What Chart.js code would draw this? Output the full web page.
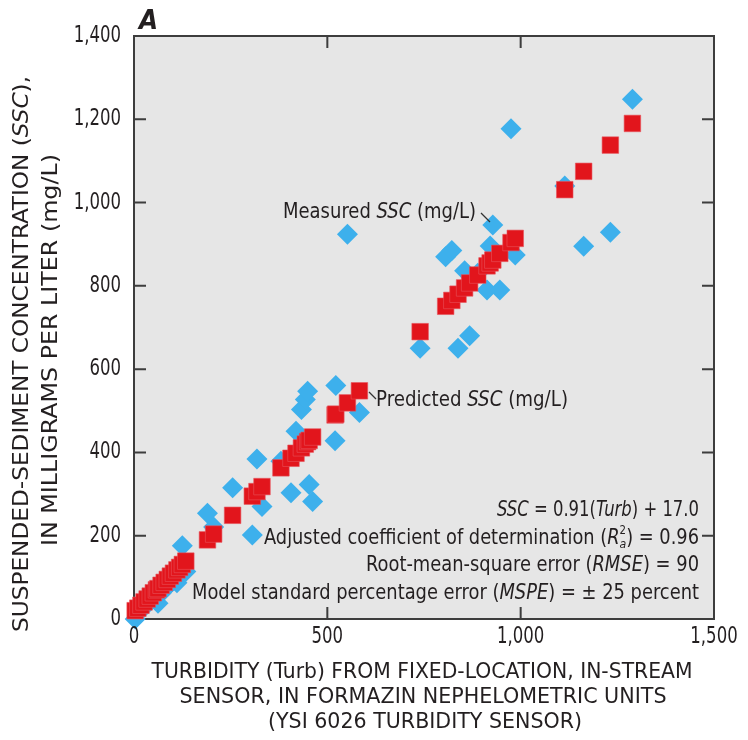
<!DOCTYPE html>
<html><head><meta charset="utf-8">
<script src="https://cdn.jsdelivr.net/npm/chart.js@4/dist/chart.umd.min.js"></script>
<style>html,body{margin:0;padding:0;background:#fff;}#wrap{width:748px;height:740px;}</style>
</head><body><div id="wrap"><canvas id="c" width="748" height="740"></canvas></div>
<script>
// Turbidity (FNU) for each sample
const turbidity = [3, 10, 18, 26, 34, 42, 50, 58, 62, 70, 78, 86, 94, 102, 111, 118, 125, 134,
  190, 206, 255, 306, 318, 331, 380, 406, 419, 433, 443, 449, 453, 462, 520, 522, 552, 583,
  740, 806, 822, 838, 855, 868, 889, 913, 921, 928, 946, 975, 986,
  1114, 1163, 1232, 1289];
// Measured SSC (mg/L)
const measuredSSC = [0, 15, 22, 28, 36, 44, 50, 56, 38, 62, 70, 78, 86, 92, 87, 108, 176, 114,
  254, 221, 315, 202, 384, 270, 379, 303, 451, 503, 527, 547, 323, 282, 428, 561, 924, 496,
  650, 870, 885, 650, 836, 680, 830, 790, 896, 946, 790, 1177, 874,
  1040, 895, 929, 1248];
// Predicted SSC (mg/L)
const predictedSSC = [20, 26, 33, 41, 48, 55, 63, 70, 73, 81, 88, 95, 103, 110, 118, 124, 131, 139,
  190, 204, 249, 295, 306, 318, 363, 386, 398, 411, 420, 426, 429, 437, 490, 492, 519, 548,
  690, 751, 765, 780, 795, 807, 826, 848, 855, 862, 878, 904, 914,
  1031, 1075, 1138, 1190];
const xTickValues = [0, 500, 1000, 1500];
const yTickValues = [0, 200, 400, 600, 800, 1000, 1200, 1400];

const FF = "'Liberation Sans Narrow','DejaVu Sans Condensed','Arial Narrow',sans-serif";
const TXT = '#231f20';
const fmt = v => Number(v).toLocaleString('en-US');

function segFont(s, size){ return (s.bold?'bold ':'') + (s.italic?'italic ':'') + (s.size||size) + 'px ' + FF; }
function drawLine(ctx, segs, x, y, size, targetW, align, fixedScale){
  let nat = 0;
  segs.forEach(s => { ctx.font = segFont(s,size); s.w = ctx.measureText(s.t).width; nat += s.w + (s.gap||0); });
  const sx = fixedScale ? fixedScale : (targetW ? targetW / nat : 1);
  ctx.save();
  const left = align === 'right' ? x - nat*sx : align === 'center' ? x - nat*sx/2 : x;
  ctx.translate(left, y);
  ctx.scale(sx, 1);
  ctx.textBaseline = 'middle'; ctx.textAlign = 'left'; ctx.fillStyle = TXT;
  let cx = 0;
  segs.forEach(s => { ctx.font = segFont(s,size); ctx.fillText(s.t, cx, s.dy||0); cx += s.w + (s.gap||0); });
  ctx.restore();
}

const framePlugin = {
  id: 'frame',
  beforeDraw(chart){
    const {ctx, chartArea:a} = chart;
    ctx.save();
    ctx.fillStyle = '#fff'; ctx.fillRect(0,0,chart.width,chart.height);
    ctx.fillStyle = '#e6e6e6'; ctx.fillRect(a.left, a.top, a.right-a.left, a.bottom-a.top);
    ctx.restore();
  },
  beforeDatasetsDraw(chart){
    const {ctx, chartArea:a, scales:{x, y}} = chart;
    ctx.save();
    ctx.strokeStyle = '#3d3d3d'; ctx.lineWidth = 2;
    ctx.strokeRect(a.left, a.top, a.right-a.left, a.bottom-a.top);
    const L = 12;
    ctx.beginPath();
    x.ticks.slice(1,-1).forEach(t => {
      const px = x.getPixelForValue(t.value);
      ctx.moveTo(px, a.bottom); ctx.lineTo(px, a.bottom-L);
      ctx.moveTo(px, a.top); ctx.lineTo(px, a.top+L);
    });
    y.ticks.slice(1,-1).forEach(t => {
      const py = y.getPixelForValue(t.value);
      ctx.moveTo(a.left, py); ctx.lineTo(a.left+L, py);
      ctx.moveTo(a.right, py); ctx.lineTo(a.right-L, py);
    });
    ctx.stroke();
    ctx.restore();
  },
  afterDatasetsDraw(chart){
    const {ctx, chartArea:a, scales:{x, y}} = chart;
    ctx.save();
    // tick labels (condensed)
    x.ticks.forEach(t => drawLine(ctx, [{t: fmt(t.value)}], x.getPixelForValue(t.value), 637, 23, 0, 'center', 0.8));
    y.ticks.forEach(t => drawLine(ctx, [{t: fmt(t.value)}], 121, y.getPixelForValue(t.value), 23, 0, 'right', 0.8));
    // panel letter
    drawLine(ctx, [{t:'A', bold:true, italic:true}], 139, 22, 27, 19, 'left');
    // y axis title
    ctx.save(); ctx.translate(22, 354); ctx.rotate(-Math.PI/2);
    drawLine(ctx, [{t:'SUSPENDED-SEDIMENT CONCENTRATION ('},{t:'SSC', italic:true},{t:'),'}], 0, 0, 22, 556, 'center');
    ctx.restore();
    ctx.save(); ctx.translate(51, 350); ctx.rotate(-Math.PI/2);
    drawLine(ctx, [{t:'IN MILLIGRAMS PER LITER (mg/L)'}], 0, 0, 22, 392, 'center');
    ctx.restore();
    // x axis title
    drawLine(ctx, [{t:'TURBIDITY (Turb) FROM FIXED-LOCATION, IN-STREAM'}], 422, 672, 22, 541, 'center');
    drawLine(ctx, [{t:'SENSOR, IN FORMAZIN NEPHELOMETRIC UNITS'}], 423, 697, 22, 487, 'center');
    drawLine(ctx, [{t:'(YSI 6026 TURBIDITY SENSOR)'}], 425, 722, 22, 314, 'center');
    // annotations
    drawLine(ctx, [{t:'Measured '},{t:'SSC', italic:true},{t:' (mg/L)'}], 283, 213, 21, 193, 'left');
    drawLine(ctx, [{t:'Predicted '},{t:'SSC', italic:true},{t:' (mg/L)'}], 376, 401, 21, 192, 'left');
    ctx.strokeStyle = '#333'; ctx.lineWidth = 1.3;
    ctx.beginPath();
    ctx.moveTo(481, 213); ctx.lineTo(490, 222);
    ctx.moveTo(369, 392); ctx.lineTo(376, 399);
    ctx.stroke();
    // statistics
    const R = 699;
    drawLine(ctx, [{t:'SSC', italic:true},{t:' = 0.91('},{t:'Turb', italic:true},{t:') + 17.0'}], R, 511, 21, 202, 'right');
    drawLine(ctx, [{t:'Adjusted coefficient of determination ('},{t:'R', italic:true},{t:'2', size:12, dy:-8, gap:-7},{t:'a', italic:true, size:13, dy:6},{t:') = 0.96'}], R, 539, 21, 435, 'right');
    drawLine(ctx, [{t:'Root-mean-square error ('},{t:'RMSE', italic:true},{t:') = 90'}], R, 566, 21, 333, 'right');
    drawLine(ctx, [{t:'Model standard percentage error ('},{t:'MSPE', italic:true},{t:') = \u00b1 25 percent'}], R, 594, 21, 507, 'right');
    ctx.restore();
  }
};

new Chart(document.getElementById('c'), {
  type: 'scatter',
  data: {
    datasets: [
      {
        label: 'Predicted SSC (mg/L)',
        data: turbidity.map((t,i) => ({x:t, y:predictedSSC[i]})),
        pointStyle: 'rect', pointRadius: 11.7, pointHoverRadius: 11.7,
        backgroundColor: '#e2151c', borderColor: '#e8525a', borderWidth: 0.6,
        order: 0, clip: false
      },
      {
        label: 'Measured SSC (mg/L)',
        data: turbidity.map((t,i) => ({x:t, y:measuredSSC[i]})),
        pointStyle: 'rectRot', pointRadius: 10.5, pointHoverRadius: 10.5,
        backgroundColor: '#3db0ec', borderColor: '#3db0ec', borderWidth: 0,
        order: 1, clip: false
      }
    ]
  },
  options: {
    responsive: false, animation: false, devicePixelRatio: 1,
    layout: { padding: { left: 0, top: 36, right: 34, bottom: 0 } },
    plugins: { legend: {display:false}, tooltip: {enabled:false}, title: {display:false} },
    scales: {
      x: {
        type: 'linear', min: 0, max: 1500,
        afterBuildTicks: s => { s.ticks = xTickValues.map(v => ({value:v})); },
        afterFit: s => { s.height = 121; },
        grid: { display:false, drawTicks:false }, border: { display:false },
        ticks: { display: false }
      },
      y: {
        type: 'linear', min: 0, max: 1400,
        afterBuildTicks: s => { s.ticks = yTickValues.map(v => ({value:v})); },
        afterFit: s => { s.width = 134; },
        grid: { display:false, drawTicks:false }, border: { display:false },
        ticks: { display: false }
      }
    }
  },
  plugins: [framePlugin]
});
</script>
</body></html>
